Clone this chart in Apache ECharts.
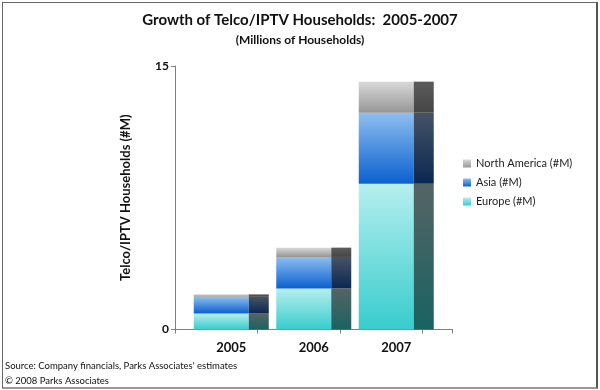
<!DOCTYPE html>
<html><head><meta charset="utf-8">
<script src="https://cdn.jsdelivr.net/npm/echarts@6/dist/echarts.min.js"></script>
<style>html,body{margin:0;padding:0;background:#fff}#c{width:600px;height:390px;position:absolute;left:0;top:0}#b{position:absolute;left:2px;top:2px;width:593px;height:384px;border:1px solid #666;border-right-width:2px;border-bottom-width:2px;border-right-color:#555;border-bottom-color:#999}</style>
</head><body><div id="b"></div><div id="c"></div>
<script>
var years = ['2005', '2006', '2007'];
var europe = [0.91, 2.34, 8.29];
var asia = [0.95, 1.79, 4.05];
var northAmerica = [0.14, 0.53, 1.77];
var yTicks = [0, 15];

function grad(top, bottom) {
  return {type: 'linear', x: 0, y: 0, x2: 0, y2: 1, colorStops: [{offset: 0, color: top}, {offset: 1, color: bottom}]};
}
var FONT = 'Lato';
var chart = echarts.init(document.getElementById('c'));
var front = {Europe: grad('#b6efef', '#38cccc'), Asia: grad('#8ebef0', '#0a60cf'), NA: grad('#d9d9d9', '#969696')};
var side = {Europe: grad('#556464', '#1a6262'), Asia: grad('#465366', '#0a2752'), NA: grad('#5c5c5c', '#454545')};
function s(name, data, color, stack, w) {
  return {name: name, type: 'bar', stack: stack, data: data, barWidth: w, barGap: '0%', xAxisIndex: 1, yAxisIndex: 1,
    itemStyle: {color: color}, emphasis: {disabled: true}, animation: false};
}
chart.setOption({
  animation: false,
  title: [
    {text: 'Growth of Telco/IPTV Households:  2005-2007', left: 'center', top: 8, textStyle: {fontFamily: FONT, fontSize: 15, fontWeight: 'bold', color: '#111'}},
    {text: '(Millions of Households)', left: 'center', top: 29, textStyle: {fontFamily: FONT, fontSize: 12, fontWeight: 'bold', color: '#111'}},
    {text: "Source: Company financials, Parks Associates' estimates", left: 0, top: 356, textStyle: {fontFamily: FONT, fontSize: 9.5, fontWeight: 'normal', color: '#111'}},
    {text: '\u00A9 2008 Parks Associates', left: 0, top: 371, textStyle: {fontFamily: FONT, fontSize: 9.5, fontWeight: 'normal', color: '#111'}}
  ],
  legend: {
    data: ['North America (#M)', 'Asia (#M)', 'Europe (#M)'],
    orient: 'vertical', left: 458, top: 153, itemWidth: 8, itemHeight: 8, itemGap: 8, icon: 'rect',
    textStyle: {fontFamily: FONT, fontSize: 11, color: '#222'}
  },
  grid: [
    {left: 175, right: 147.3, top: 66, bottom: 60.5},
    {left: 190, right: 162.5, top: 66, bottom: 60.5}
  ],
  xAxis: [
    {type: 'value', gridIndex: 0, min: 0, max: 3.366, interval: 1,
      axisLine: {show: true, lineStyle: {color: '#808080', width: 1}},
      axisTick: {show: true, length: 4, lineStyle: {color: '#808080'}},
      axisLabel: {show: false}, splitLine: {show: false}},
    {type: 'category', gridIndex: 1, data: years,
      axisLine: {show: false}, axisTick: {show: false},
      axisLabel: {margin: 12, fontFamily: FONT, fontSize: 13, fontWeight: 'bold', color: '#111'}}
  ],
  yAxis: [
    {type: 'value', gridIndex: 0, min: yTicks[0], max: yTicks[1], interval: 15,
      name: 'Telco/IPTV Households (#M)', nameLocation: 'middle', nameGap: 43, nameRotate: 90,
      nameTextStyle: {fontFamily: FONT, fontSize: 13, fontWeight: 'bold', color: '#111'},
      axisLine: {show: true, lineStyle: {color: '#808080'}},
      axisTick: {show: true, length: 4, lineStyle: {color: '#808080'}},
      axisLabel: {margin: 6, fontFamily: FONT, fontSize: 12, fontWeight: 'bold', color: '#111'},
      splitLine: {show: false}},
    {type: 'value', gridIndex: 1, min: 0, max: 15, show: false}
  ],
  series: [
    s('Europe (#M)', europe, front.Europe, 'front', 55),
    s('Asia (#M)', asia, front.Asia, 'front', 55),
    s('North America (#M)', northAmerica, front.NA, 'front', 55),
    s('Europe side', europe, side.Europe, 'side', 20),
    s('Asia side', asia, side.Asia, 'side', 20),
    s('North America side', northAmerica, side.NA, 'side', 20)
  ]
});
</script></body></html>
